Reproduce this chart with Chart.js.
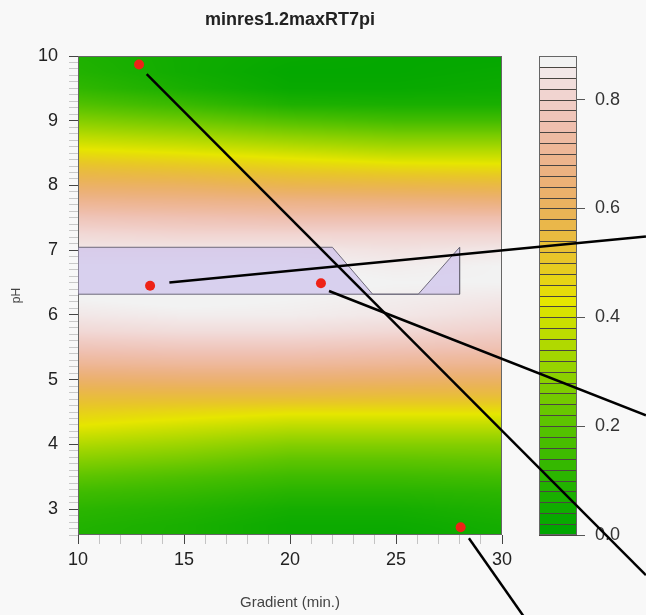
<!DOCTYPE html>
<html><head><meta charset="utf-8">
<script src="https://cdn.jsdelivr.net/npm/chart.js@4/dist/chart.umd.min.js"></script>
<style>html,body{margin:0;padding:0;background:#f8f8f8;}canvas{display:block;}</style>
</head><body>
<canvas id="c" width="646" height="615"></canvas>
<script>
// ---- data ----
const chartTitle = 'minres1.2maxRT7pi';
const gradientCols = [10, 15, 20, 25, 30];
const phRows = [2.5, 2.75, 3, 3.25, 3.5, 3.75, 4, 4.25, 4.5, 4.75, 5, 5.25, 5.5, 5.75, 6, 6.25, 6.5, 6.75, 7, 7.25, 7.5, 7.75, 8, 8.25, 8.5, 8.75, 9, 9.25, 9.5, 9.75, 10];
const z10 = [0.08, 0.09, 0.11, 0.15, 0.21, 0.28, 0.35, 0.42, 0.48, 0.55, 0.63, 0.71, 0.77, 0.82, 0.85, 0.87, 0.88, 0.87, 0.85, 0.82, 0.77, 0.70, 0.62, 0.54, 0.45, 0.37, 0.28, 0.19, 0.12, 0.09, 0.08];
const z15 = [0.07, 0.07, 0.09, 0.13, 0.18, 0.25, 0.32, 0.39, 0.46, 0.55, 0.64, 0.72, 0.78, 0.83, 0.86, 0.88, 0.88, 0.87, 0.85, 0.81, 0.76, 0.69, 0.61, 0.52, 0.43, 0.34, 0.24, 0.14, 0.07, 0.05, 0.05];
const z20 = [0.04, 0.04, 0.06, 0.10, 0.15, 0.21, 0.28, 0.36, 0.44, 0.55, 0.64, 0.72, 0.78, 0.83, 0.86, 0.87, 0.88, 0.87, 0.85, 0.81, 0.75, 0.68, 0.58, 0.49, 0.40, 0.30, 0.19, 0.08, 0.03, 0.02, 0.03];
const z25 = [0.03, 0.04, 0.06, 0.10, 0.15, 0.21, 0.28, 0.36, 0.44, 0.54, 0.63, 0.71, 0.77, 0.82, 0.85, 0.86, 0.87, 0.86, 0.84, 0.81, 0.75, 0.67, 0.57, 0.47, 0.37, 0.27, 0.16, 0.07, 0.03, 0.02, 0.02];
const z30 = [0.05, 0.06, 0.08, 0.11, 0.16, 0.22, 0.28, 0.36, 0.44, 0.54, 0.62, 0.70, 0.76, 0.80, 0.83, 0.85, 0.87, 0.87, 0.85, 0.81, 0.75, 0.66, 0.56, 0.46, 0.37, 0.27, 0.16, 0.07, 0.04, 0.03, 0.02];
const levelStep = 0.02;
const levelMax = 0.88;
const colorbarTickStep = 0.2;

const pointX = [12.88, 13.40, 21.46, 28.05];
const pointPH = [9.87, 6.45, 6.49, 2.72];

const leaderStartX = [13.24, 14.31, 21.84, 28.44];
const leaderStartPH = [9.72, 6.50, 6.37, 2.55];
const leaderEndX = [36.79, 36.79, 36.79, 31.2];
const leaderEndPH = [1.98, 7.21, 4.45, 1.26];

const regionX = [10, 10, 22.0, 23.9, 26.05, 28.0, 28.0, 10];
const regionPH = [6.32, 7.045, 7.045, 6.32, 6.32, 7.045, 6.32, 6.32];

// ---- colours (R terrain.colors) ----
function hsv2rgb(h, s, v) {
  const i = Math.floor(h * 6), f = h * 6 - i;
  const p = v * (1 - s), q = v * (1 - f * s), t = v * (1 - (1 - f) * s);
  let r, g, b;
  switch (((i % 6) + 6) % 6) {
    case 0: r = v; g = t; b = p; break;
    case 1: r = q; g = v; b = p; break;
    case 2: r = p; g = v; b = t; break;
    case 3: r = p; g = q; b = v; break;
    case 4: r = t; g = p; b = v; break;
    default: r = v; g = p; b = q;
  }
  return [Math.round(r * 255), Math.round(g * 255), Math.round(b * 255)];
}
function terrainColors(n) {
  const k = Math.floor(n / 2), out = [];
  for (let i = 0; i < k; i++) {
    const t = k > 1 ? i / (k - 1) : 0;
    out.push(hsv2rgb(4 / 12 - 2 / 12 * t, 1, 0.65 + 0.25 * t));
  }
  const m = n - k + 1;
  for (let j = 1; j < m; j++) {
    const t = j / (m - 1);
    out.push(hsv2rgb(2 / 12 * (1 - t), 1 - t, 0.9 + 0.05 * t));
  }
  return out;
}
const nLevels = Math.round(levelMax / levelStep);
const palette = terrainColors(nLevels);

function colourFor(v) {
  let p = v / levelStep - 0.5;
  p = Math.max(0, Math.min(nLevels - 1, p));
  const i = Math.floor(p), j = Math.min(nLevels - 1, i + 1), t = p - i;
  const a = palette[i], b = palette[j];
  return [a[0] + (b[0] - a[0]) * t, a[1] + (b[1] - a[1]) * t, a[2] + (b[2] - a[2]) * t];
}

function fieldValue(g, ph) {
  const cols = [z10, z15, z20, z25, z30];
  let j = 0;
  while (j < gradientCols.length - 2 && g > gradientCols[j + 1]) j++;
  let i = 0;
  while (i < phRows.length - 2 && ph > phRows[i + 1]) i++;
  let tx = (g - gradientCols[j]) / (gradientCols[j + 1] - gradientCols[j]);
  let ty = (ph - phRows[i]) / (phRows[i + 1] - phRows[i]);
  tx = Math.max(0, Math.min(1, tx)); ty = Math.max(0, Math.min(1, ty));
  const a = cols[j][i], b = cols[j + 1][i], c = cols[j][i + 1], d = cols[j + 1][i + 1];
  return (a * (1 - tx) + b * tx) * (1 - ty) + (c * (1 - tx) + d * tx) * ty;
}

const heatmapPlugin = {
  id: 'heatmap',
  beforeDatasetsDraw(chart) {
    const {ctx, chartArea: a} = chart;
    const xs = chart.scales.x, ys = chart.scales.y;
    const w = Math.round(a.right - a.left), h = Math.round(a.bottom - a.top);
    const off = document.createElement('canvas');
    off.width = w; off.height = h;
    const octx = off.getContext('2d');
    const img = octx.createImageData(w, h);
    for (let py = 0; py < h; py++) {
      const ph = ys.getValueForPixel(a.top + py + 0.5);
      for (let px = 0; px < w; px++) {
        const g = xs.getValueForPixel(a.left + px + 0.5);
        const c = colourFor(fieldValue(g, ph));
        const o = (py * w + px) * 4;
        img.data[o] = c[0]; img.data[o + 1] = c[1]; img.data[o + 2] = c[2]; img.data[o + 3] = 255;
      }
    }
    octx.putImageData(img, 0, 0);
    ctx.save();
    ctx.drawImage(off, a.left, a.top);
    ctx.strokeStyle = '#666';
    ctx.lineWidth = 1;
    ctx.strokeRect(Math.round(a.left) + 0.5, Math.round(a.top) + 0.5, w - 1, h - 1);

    // colour bar, mapped with the colour-bar scale
    const cb = chart.scales.cb;
    const x1 = Math.round(cb.left), x0 = x1 - 38;
    for (let i = 0; i < nLevels; i++) {
      const yA = Math.round(cb.getPixelForValue(i * levelStep));
      const yB = Math.round(cb.getPixelForValue((i + 1) * levelStep));
      const c = palette[i];
      ctx.fillStyle = `rgb(${c[0]},${c[1]},${c[2]})`;
      ctx.fillRect(x0, yB, x1 - x0, yA - yB);
      ctx.strokeStyle = '#4a4540';
      ctx.strokeRect(x0 + 0.5, yB + 0.5, x1 - x0 - 1, yA - yB);
    }
    ctx.strokeStyle = '#666';
    const yt = Math.round(cb.getPixelForValue(levelMax)), yb = Math.round(cb.getPixelForValue(0));
    ctx.strokeRect(x0 + 0.5, yt + 0.5, x1 - x0 - 1, yb - yt - 1);
    ctx.restore();
  }
};

Chart.defaults.font.family = "'Liberation Sans', Arial, sans-serif";

const leaderSets = leaderStartX.map((sx, i) => ({
  type: 'line',
  data: [{x: sx, y: leaderStartPH[i]}, {x: leaderEndX[i], y: leaderEndPH[i]}],
  showLine: true, borderColor: '#000', borderWidth: 2.5, pointRadius: 0,
  clip: false, fill: false, order: 1
}));

new Chart(document.getElementById('c'), {
  type: 'scatter',
  data: {
    datasets: [
      {
        data: pointX.map((x, i) => ({x, y: pointPH[i]})),
        pointRadius: 5, backgroundColor: 'rgb(238,34,22)', borderWidth: 0, order: 0
      },
      ...leaderSets,
      {
        type: 'line',
        data: regionX.map((x, i) => ({x, y: regionPH[i]})),
        showLine: true, fill: 'shape', tension: 0,
        backgroundColor: 'rgba(200,188,236,0.62)', borderColor: '#6e6a7a', borderWidth: 1,
        pointRadius: 0, order: 2
      }
    ]
  },
  options: {
    responsive: false, animation: false, devicePixelRatio: 1, events: [],
    layout: {padding: 0},
    plugins: {
      legend: {display: false}, tooltip: {enabled: false},
      title: {display: true, text: chartTitle, fullSize: false, color: '#222',
        font: {size: 18, weight: 'bold'}, padding: {top: 9, bottom: 25.4}}
    },
    scales: {
      x: {
        type: 'linear', position: 'bottom', min: 10, max: 30,
        ticks: {stepSize: 1, autoSkip: false, maxRotation: 0, color: '#222', font: {size: 18}, padding: 5,
          callback: v => (Math.round(v) % 5 === 0 ? String(Math.round(v)) : '')},
        grid: {drawOnChartArea: false, drawTicks: true, tickLength: 9,
          tickColor: c => (c.tick && Math.round(c.tick.value) % 5 === 0) ? '#444' : '#c4c4c4'},
        border: {display: false},
        title: {display: true, text: 'Gradient (min.)', color: '#444', font: {size: 15}, padding: {top: 0, bottom: 3}},
        afterFit: s => { s.height = 80; }
      },
      y: {
        type: 'linear', position: 'left', min: 2.6, max: 10,
        ticks: {stepSize: 0.1, autoSkip: false, color: '#222', font: {size: 18}, padding: 11,
          callback: v => { const r = Math.round(v * 10) / 10; return Number.isInteger(r) ? String(r) : ''; }},
        grid: {drawOnChartArea: false, drawTicks: true, tickLength: 9,
          tickColor: c => { if (!c.tick) return '#c4c4c4'; const r = Math.round(c.tick.value * 10) / 10; return Number.isInteger(r) ? '#444' : '#c8c8c8'; }},
        border: {display: false},
        title: {display: true, text: 'pH', color: '#444', font: {size: 12}, padding: {top: 9, bottom: 0}},
        afterFit: s => { s.width = 78; }
      },
      sp: {
        type: 'linear', position: 'right', weight: 0, display: true,
        ticks: {display: false}, grid: {display: false, drawTicks: false}, border: {display: false},
        afterFit: s => { s.width = 75; }
      },
      cb: {
        type: 'linear', position: 'right', weight: 1, min: 0, max: levelMax,
        ticks: {stepSize: colorbarTickStep, includeBounds: false, color: '#333', font: {size: 18}, padding: 10,
          callback: v => Number(v).toFixed(1)},
        grid: {drawOnChartArea: false, drawTicks: true, tickLength: 8, tickColor: '#555'},
        border: {display: false},
        afterFit: s => { s.width = 69; }
      }
    }
  },
  plugins: [heatmapPlugin]
});
</script>
</body></html>
